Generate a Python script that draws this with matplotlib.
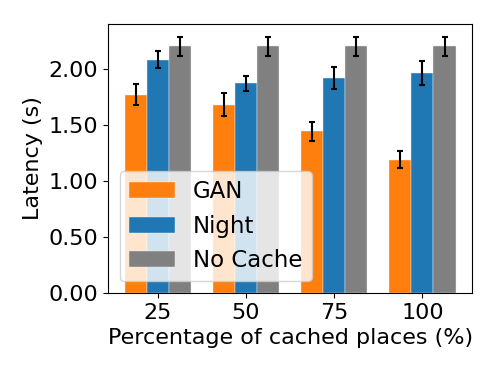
import numpy as np
import matplotlib
matplotlib.use("Agg")
import matplotlib.pyplot as plt

groups = ["25", "50", "75", "100"]
gan = [1.77, 1.68, 1.44, 1.19]
gan_err = [0.09, 0.105, 0.086, 0.075]
night = [2.08, 1.87, 1.92, 1.96]
night_err = [0.075, 0.065, 0.10, 0.105]
nocache = [2.20, 2.20, 2.20, 2.20]
nocache_err = [0.085, 0.085, 0.085, 0.085]

plt.rcParams['font.size'] = 16

fig, ax = plt.subplots(figsize=(4.98, 3.74), dpi=100)
fig.subplots_adjust(left=0.217, right=0.948, top=0.936, bottom=0.217)

x = np.arange(len(groups))
w = 0.25
ekw = dict(ecolor='black', capsize=2.5, error_kw=dict(elinewidth=1.5, capthick=1.5))
ax.bar(x - w, gan, w, yerr=gan_err, color='#ff7f0e', edgecolor='#f0f0f0', linewidth=0.3, label='GAN', **ekw)
ax.bar(x, night, w, yerr=night_err, color='#1f77b4', edgecolor='#f0f0f0', linewidth=0.3, label='Night', **ekw)
ax.bar(x + w, nocache, w, yerr=nocache_err, color='grey', edgecolor='#f0f0f0', linewidth=0.3, label='No Cache', **ekw)

ax.set_xticks(x)
ax.set_xticklabels(groups)
ax.set_ylim(0, 2.4)
ax.set_yticks([0, 0.5, 1.0, 1.5, 2.0])
ax.set_yticklabels(["%.2f" % v for v in [0, 0.5, 1.0, 1.5, 2.0]])
ax.set_xlabel("Percentage of cached places (%)")
ax.set_ylabel("Latency (s)")
ax.legend(loc='lower left', fontsize=16.5)

fig.savefig("out.png")
